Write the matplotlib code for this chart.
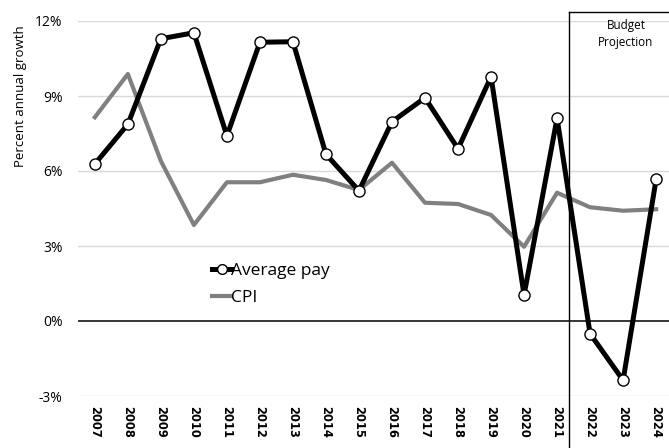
import matplotlib
matplotlib.use("Agg")
import matplotlib.pyplot as plt
from matplotlib.lines import Line2D

years = list(range(2007, 2025))
year_labels = [str(y) for y in years]
average_pay = [6.28, 7.87, 11.29, 11.53, 7.41, 11.15, 11.17, 6.67, 5.21, 7.97,
               8.93, 6.89, 9.77, 1.04, 8.11, -0.51, -2.37, 5.67]
cpi = [8.15, 9.88, 6.4, 3.84, 5.55, 5.55, 5.85, 5.64, 5.24, 6.33,
       4.73, 4.68, 4.24, 2.97, 5.13, 4.55, 4.41, 4.47]
y_ticks = [-3, 0, 3, 6, 9, 12]
y_tick_labels = ["-3%", "0%", "3%", "6%", "9%", "12%"]

plt.rcParams["font.family"] = ["Open Sans", "DejaVu Sans"]

W, H = 669, 448
fig = plt.figure(figsize=(W / 100, H / 100), dpi=100)
ax = fig.add_axes([78 / W, (H - 396) / H, 1 - 78 / W, 375 / H])

ax.set_ylim(-3, 12)
ax.set_xlim(2006.49, 2024.39)

for t in y_ticks:
    if t == 0:
        ax.axhline(0, color="black", lw=1.1, zorder=2)
    else:
        ax.axhline(t, color="#d9d9d9", lw=1.0, zorder=1)

ax.plot(years, cpi, color="#808080", lw=3.0, solid_joinstyle="round", zorder=3, label="CPI")
ax.plot(years, average_pay, color="black", lw=3.6, solid_joinstyle="round",
        marker="o", markersize=8, markerfacecolor="white", markeredgecolor="black",
        markeredgewidth=1.0, zorder=4, label="Average pay")

ax.set_yticks(y_ticks)
ax.set_yticklabels(y_tick_labels, fontsize=10)
ax.tick_params(axis="y", length=0, pad=11)
ax.set_xticks(years)
ax.set_xticklabels(year_labels, rotation=-90, fontsize=8.3, fontweight="bold",
                   family="DejaVu Sans", va="top", ha="center")
ax.tick_params(axis="x", length=0, pad=7)
for s in ax.spines.values():
    s.set_visible(False)

fig.text(21 / W, 1 - 96 / H, "Percent annual growth", rotation=90, fontsize=9.5,
         ha="center", va="center")

# legend handles drawn a little smaller than the plotted marks
leg_handles = [
    Line2D([], [], color="black", lw=3.6, marker="o", markersize=7,
           markerfacecolor="white", markeredgecolor="black", markeredgewidth=1.0),
    Line2D([], [], color="#808080", lw=3.0),
]
ax.legend(leg_handles, ["Average pay", "CPI"], loc="upper left",
          bbox_to_anchor=(212 / W, 1 - 263 / H), bbox_transform=fig.transFigure,
          frameon=False, fontsize=12.5, handlelength=1.1, handletextpad=0.0,
          labelspacing=0.6, borderpad=0, borderaxespad=0)

# projection box
fig.add_artist(Line2D([569 / W, 569 / W], [0, 1 - 12 / H], transform=fig.transFigure,
                      color="black", lw=1.0))
fig.add_artist(Line2D([569 / W, 1], [1 - 12 / H, 1 - 12 / H], transform=fig.transFigure,
                      color="black", lw=1.0))
fig.text(626 / W, 1 - 34 / H, "Budget\nProjection", fontsize=8.5, ha="center", va="center",
         linespacing=1.45)

fig.savefig("out.png", dpi=100)
